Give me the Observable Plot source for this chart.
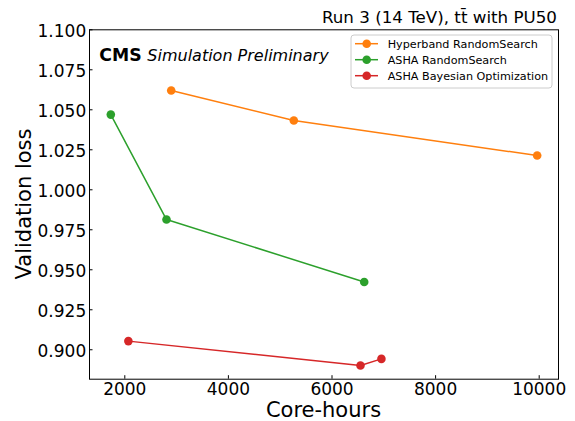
<!DOCTYPE html>
<html>
<head>
<meta charset="utf-8">
<script src="https://cdn.jsdelivr.net/npm/d3@7"></script>
<script src="https://cdn.jsdelivr.net/npm/@observablehq/plot@0.6"></script>
<style>
  html, body { margin: 0; padding: 0; background: #fff; }
  #chart { width: 575px; height: 421px; }
</style>
</head>
<body>
<div id="chart"></div>
<script>
// ---- data ----
const seriesNames = ["Hyperband RandomSearch", "ASHA RandomSearch", "ASHA Bayesian Optimization"];
const seriesColors = ["#ff7f0e", "#2ca02c", "#d62728"];
const hyperbandX = [2896, 5263, 9961];
const hyperbandY = [1.0621, 1.0433, 1.0214];
const ashaRandomX = [1730, 2805, 6622];
const ashaRandomY = [1.0470, 0.9814, 0.9424];
const ashaBayesX = [2069, 6550, 6954];
const ashaBayesY = [0.9054, 0.8902, 0.8943];
const xTicks = [2000, 4000, 6000, 8000, 10000];
const yTicks = [0.900, 0.925, 0.950, 0.975, 1.000, 1.025, 1.050, 1.075, 1.100];
const titleText = "Run 3 (14 TeV), t";
const titleTail = "t\u0304 with PU50";

const seriesXs = [hyperbandX, ashaRandomX, ashaBayesX];
const seriesYs = [hyperbandY, ashaRandomY, ashaBayesY];
const rows = [];
seriesNames.forEach((name, i) => {
  seriesXs[i].forEach((x, j) => rows.push({series: name, x, y: seriesYs[i][j]}));
});

const W = 575, H = 421;
const mL = 89, mR = 17, mT = 29.3, mB = 42.3;
const fw = W - mL - mR, fh = H - mT - mB;

const chart = Plot.plot({
  width: W, height: H,
  marginLeft: mL, marginRight: mR, marginTop: mT, marginBottom: mB,
  style: {fontFamily: "DejaVu Sans", fontSize: "17px", color: "#000", background: "#fff", overflow: "visible"},
  x: {domain: [1318.5, 10372.6]},
  y: {domain: [0.8816, 1.1]},
  color: {domain: seriesNames, range: seriesColors},
  marks: [
    Plot.axisX(xTicks, {tickSize: 0, tickPadding: 3.5, label: null, fill: "#000", tickFormat: d3.format("d"), fontSize: 17}),
    Plot.axisY(yTicks, {tickSize: 0, tickPadding: 3.3, label: null, fill: "#000", tickFormat: d3.format(".3f"), fontSize: 17, dy: 2}),
    Plot.tickX(xTicks, {x: d => d, stroke: "#000", strokeWidth: 1, insetTop: fh - 3.5}),
    Plot.tickY(yTicks, {y: d => d, stroke: "#000", strokeWidth: 1, insetRight: fw - 3.5}),
    Plot.line(rows, {x: "x", y: "y", z: "series", stroke: "series", strokeWidth: 1.5}),
    Plot.dot(rows, {x: "x", y: "y", fill: "series", r: 4.3}),
    Plot.frame({stroke: "#000", strokeWidth: 1})
  ]
});
document.getElementById("chart").appendChild(chart);

const svg = d3.select(chart);
const ff = "DejaVu Sans";

// title
const t = svg.append("text")
  .attr("x", 557).attr("y", 23.3).attr("text-anchor", "end")
  .attr("font-family", ff).attr("font-size", 16.7).attr("fill", "#000");
t.append("tspan").text(titleText);
t.append("tspan").text(titleTail);

// axis labels
svg.append("text").attr("x", mL + fw / 2).attr("y", 416.7).attr("text-anchor", "middle")
  .attr("font-family", ff).attr("font-size", 21).attr("fill", "#000").text("Core-hours");
svg.append("text").attr("transform", `translate(30.5,${mT + fh / 2}) rotate(-90)`).attr("text-anchor", "middle")
  .attr("font-family", ff).attr("font-size", 21).attr("fill", "#000").text("Validation loss");

// CMS label
svg.append("text").attr("x", 99.3).attr("y", 61).attr("text-anchor", "start").attr("font-family", ff).attr("font-weight", "bold")
  .attr("font-size", 17.3).attr("fill", "#000").text("CMS");
svg.append("text").attr("x", 147.3).attr("y", 61).attr("text-anchor", "start").attr("font-family", ff).attr("font-style", "italic")
  .attr("font-size", 16).attr("fill", "#000").text("Simulation Preliminary");

// legend
const lg = svg.append("g");
lg.append("rect").attr("x", 351).attr("y", 35).attr("width", 201).attr("height", 53).attr("rx", 3)
  .attr("fill", "#fff").attr("fill-opacity", 0.8).attr("stroke", "#cccccc").attr("stroke-width", 1);
seriesNames.forEach((name, i) => {
  const yy = 43.7 + i * 16;
  lg.append("line").attr("x1", 355).attr("x2", 378).attr("y1", yy).attr("y2", yy)
    .attr("stroke", seriesColors[i]).attr("stroke-width", 1.5);
  lg.append("circle").attr("cx", 366.7).attr("cy", yy).attr("r", 4.3).attr("fill", seriesColors[i]);
  lg.append("text").attr("x", 387.7).attr("y", yy + 4).attr("text-anchor", "start").attr("font-family", ff).attr("font-size", 11.2)
    .attr("fill", "#000").text(name);
});
</script>
</body>
</html>
